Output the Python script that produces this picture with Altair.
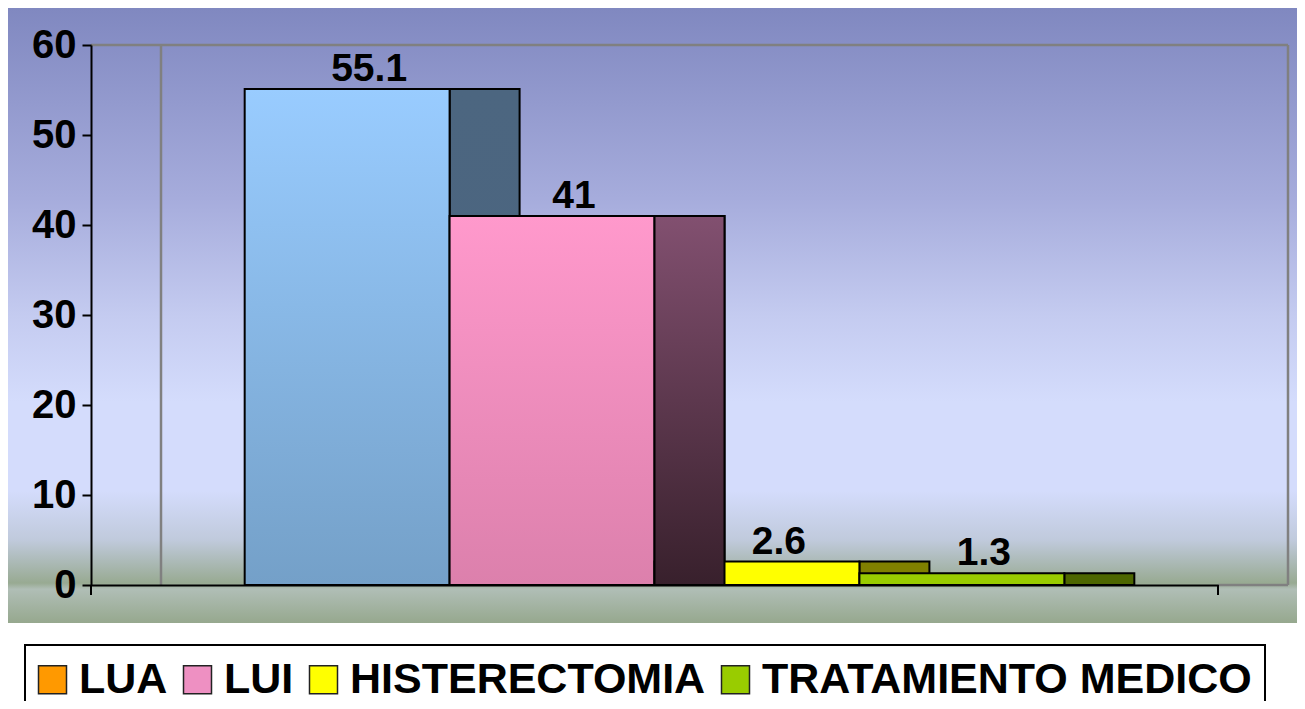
import altair as alt
import pandas as pd

categories = ["LUA", "LUI", "HISTERECTOMIA", "TRATAMIENTO MEDICO"]
values = [55.1, 41, 2.6, 1.3]
legend_colors = ["#ff9900", "#ee90c2", "#ffff00", "#99cc00"]
front_top = ["#99ccff", "#ff99cc", "#ffff00", "#99cc00"]
front_bottom = ["#74a0c8", "#dc80ac", "#ffff00", "#99cc00"]
side_top = ["#4c6680", "#825070", "#808000", "#4d6600"]
side_bottom = ["#4a6480", "#38202c", "#808000", "#4d6600"]
y_ticks = [0, 10, 20, 30, 40, 50, 60]

df = pd.DataFrame({"category": categories, "value": values})
one = pd.DataFrame({"k": [0]})

FONT = "Liberation Sans"
W, H = 1127, 540
DEPTH = 70


def grad(stops):
    return {"gradient": "linear", "x1": 0, "y1": 0, "x2": 0, "y2": 1,
            "stops": [{"offset": o, "color": c} for o, c in stops]}


def fill_by_cat(tops, bottoms):
    conds = [{"test": f"datum.category === '{c}'", "value": grad([(0, t), (1, b)])}
             for c, t, b in zip(categories[:-1], tops[:-1], bottoms[:-1])]
    return {"condition": conds, "value": grad([(0, tops[-1]), (1, bottoms[-1])])}


bg_grad = grad([(0, "#8088c0"), (0.31, "#a6acdc"), (0.5, "#c4cbf0"), (0.64, "#d4dcfc"),
                (0.785, "#d4dcfc"), (0.865, "#c0cadc"), (0.935, "#98aa92"),
                (0.945, "#b0beb6"), (1, "#96a88e")])

x_scale = alt.Scale(type="band", domain=categories, paddingInner=0, paddingOuter=0.75)
y_scale = alt.Scale(domain=[0, 60], nice=False, zero=True)
x_axis = alt.Axis(labels=False, ticks=False, title=None, grid=False,
                  domainColor="black", domainWidth=2, zindex=1)
y_axis = alt.Axis(values=y_ticks, title=None, grid=False, domainColor="black", domainWidth=2,
                  tickColor="black", tickWidth=2, tickSize=9, labelPadding=6, zindex=1,
                  labelFont=FONT, labelFontSize=40, labelFontWeight="bold", labelColor="black")

X = alt.X("category:N", sort=categories, scale=x_scale, axis=x_axis)
Y = alt.Y("value:Q", scale=y_scale, axis=y_axis)

background = alt.Chart(one).mark_rect(fill=bg_grad).encode(
    x=alt.value(-83), x2=alt.value(1206), y=alt.value(-37), y2=alt.value(578))

wall_color = "#808080"
wall_top = alt.Chart(one).mark_rule(color=wall_color, strokeWidth=2.5).encode(
    x=alt.value(0), x2=alt.value(W + DEPTH), y=alt.value(0))
wall_left = alt.Chart(one).mark_rule(color=wall_color, strokeWidth=2.5).encode(
    x=alt.value(DEPTH), y=alt.value(0), y2=alt.value(H))
wall_right = alt.Chart(one).mark_rule(color=wall_color, strokeWidth=2.5).encode(
    x=alt.value(W + DEPTH), y=alt.value(0), y2=alt.value(H))
wall_floor = alt.Chart(one).mark_rule(color=wall_color, strokeWidth=2.5).encode(
    x=alt.value(W), x2=alt.value(W + DEPTH), y=alt.value(H))

base = alt.Chart(df)
step = W / (len(categories) + 1.5)

sides = base.mark_bar(width=DEPTH, xOffset=step / 2 + DEPTH / 2, stroke="black",
                      strokeWidth=2).encode(x=X, y=Y, fill=fill_by_cat(side_top, side_bottom))
fronts = base.mark_bar(stroke="black", strokeWidth=2).encode(
    x=X, y=Y, fill=fill_by_cat(front_top, front_bottom))
side_lui = sides.transform_filter(alt.datum.category == "LUI")

labels = base.mark_text(font=FONT, fontSize=39, fontWeight="bold", color="black",
                        baseline="alphabetic", dx=22, dy=-8).encode(
    x=X, y=Y, text=alt.Text("value:Q", format=".3~g"))

legend_layer = base.mark_square(opacity=0, size=10).encode(
    x=X, y=Y,
    color=alt.Color("category:N", sort=categories,
                    scale=alt.Scale(domain=categories, range=legend_colors),
                    legend=alt.Legend(orient="none", legendX=-66, legendY=600,
                                      direction="horizontal", title=None,
                                      symbolType="square", symbolSize=784,
                                      symbolStrokeColor="#222222", symbolStrokeWidth=1.5,
                                      symbolOpacity=1, symbolOffset=-7,
                                      labelFont=FONT, labelFontSize=43,
                                      labelFontWeight="bold", labelColor="black",
                                      labelLimit=2000, labelOffset=5, columnPadding=12)))

end_ticks_l = alt.Chart(one).mark_rule(color="black", strokeWidth=2).encode(
    x=alt.value(0), y=alt.value(H), y2=alt.value(H + 10))
end_ticks_r = alt.Chart(one).mark_rule(color="black", strokeWidth=2).encode(
    x=alt.value(W), y=alt.value(H), y2=alt.value(H + 10))

chart = alt.layer(
    background, wall_top, wall_left, wall_right, wall_floor,
    sides, fronts, side_lui, labels, legend_layer, end_ticks_l, end_ticks_r
).properties(
    width=W, height=H,
    autosize=alt.AutoSizeParams(type="none"),
    padding={"left": 83, "top": 37, "right": 79, "bottom": 116},
).configure_view(stroke=None).configure_legend(
    fillColor="white", strokeColor="black", strokeWidth=2, padding=13, cornerRadius=0
)

chart.save("out.html", embed_options={"renderer": "svg", "actions": False})
